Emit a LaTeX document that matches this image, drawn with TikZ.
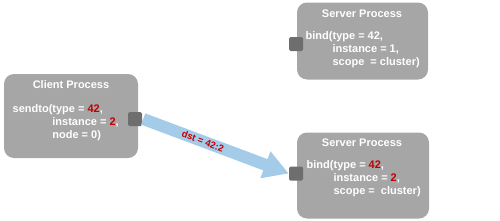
\documentclass[tikz,border=0pt]{standalone}
\usepackage{fontspec}
\setmainfont{Liberation Sans}
\usepackage{tikz}
\usetikzlibrary{arrows.meta, positioning}
\definecolor{boxgray}{RGB}{166,166,166}
\definecolor{portgray}{RGB}{110,110,110}
\definecolor{flowblue}{RGB}{164,204,233}
\definecolor{numred}{RGB}{192,0,0}
\tikzset{
  procbox/.style={rectangle, fill=boxgray, rounded corners=10pt, inner sep=0pt},
  port/.style={rectangle, fill=portgray, minimum size=14pt, inner sep=0pt,
    rounded corners=1.5pt},
  title/.style={font=\bfseries\fontsize{11}{13}\selectfont, text=white, inner sep=0pt},
  body/.style={font=\bfseries\fontsize{11}{13}\selectfont, text=white, align=left,
    inner sep=0pt, anchor=base west},
  flow/.style={-{Triangle[length=25pt, width=27pt]}, line width=12pt, color=flowblue},
  flowlabel/.style={font=\bfseries\fontsize{9.5}{11}\selectfont, text=numred, inner sep=0pt}
}
\newcommand{\num}[1]{\textcolor{numred}{#1}}

\begin{document}
\begin{tikzpicture}[x=1pt, y=-1pt]
  \useasboundingbox (0,0) rectangle (500,220);

  % Client side
  \node[procbox, minimum width=134pt, minimum height=84pt] (client) at (71,116) {};
  \node[title] (clienttitle) at (71,85) {Client Process};
  % body nodes sit on the baseline of their last line
  \node[body] (clientcall) at (12.5,138) {sendto(type = \num{42},\\
    \phantom{sendto(}instance = \num{2},\\
    \phantom{sendto(}node = 0)};
  \node[port] (clientport) at (135,119) {};

  % Server processes
  \node[procbox, minimum width=131pt, minimum height=77pt] (srvtop) at (362.5,41) {};
  \node[title] (srvtoptitle) at (362,14) {Server Process};
  \node[body] (srvtopcall) at (305.5,65.5) {bind(type = 42,\\
    \phantom{bind(}instance = 1,\\
    \phantom{bind(}scope\ \ = cluster)};
  \node[port] (topport) at (296,44) {};

  \node[procbox, minimum width=132pt, minimum height=86pt] (srvlow) at (363,175.5) {};
  \node[title] (srvlowtitle) at (362,143) {Server Process};
  \node[body] (srvlowcall) at (306.5,194) {bind(type = \num{42},\\
    \phantom{bind(}instance = \num{2},\\
    \phantom{bind(}scope =\ \ cluster)};
  \node[port] (lowport) at (296,173.5) {};

  % Message
  \draw[flow] ([xshift=1pt]clientport.east) -- (lowport.west)
    node[pos=0.41, sloped, flowlabel] (dstlabel) {dst = 42:2};
\end{tikzpicture}
\end{document}
